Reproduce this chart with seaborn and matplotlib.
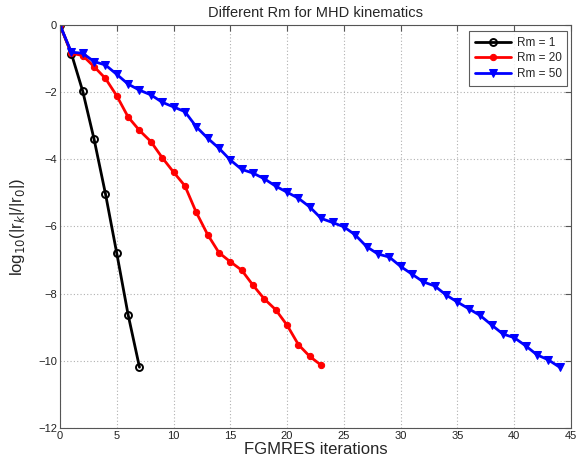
import matplotlib
matplotlib.use("Agg")
import matplotlib.pyplot as plt
import seaborn as sns
import pandas as pd
import numpy as np

rm1 = [0, -0.85, -1.97, -3.40, -5.02, -6.80, -8.63, -10.19]
rm20 = [0, -0.84, -0.91, -1.24, -1.59, -2.11, -2.74, -3.14, -3.47, -3.95, -4.38,
        -4.79, -5.58, -6.24, -6.78, -7.05, -7.30, -7.75, -8.16, -8.48, -8.94,
        -9.52, -9.87, -10.13]
rm50 = [0, -0.81, -0.84, -1.09, -1.19, -1.47, -1.76, -1.94, -2.08, -2.30, -2.44,
        -2.58, -3.03, -3.37, -3.67, -4.02, -4.30, -4.41, -4.58, -4.80, -4.98,
        -5.16, -5.42, -5.76, -5.88, -6.01, -6.25, -6.60, -6.82, -6.91, -7.19,
        -7.42, -7.65, -7.77, -8.04, -8.25, -8.45, -8.65, -8.93, -9.20, -9.31,
        -9.55, -9.82, -9.97, -10.19]
labels = ["Rm = 1", "Rm = 20", "Rm = 50"]
colors = ["black", "red", "blue"]

sns.set_style("white")
plt.rcParams['font.family'] = ['Liberation Sans', 'DejaVu Sans']

fig = plt.figure(figsize=(5.76, 4.66), dpi=100)
ax = fig.add_axes([60/576, 1-428/466, 511/576, 403/466])

series = [rm1, rm20, rm50]
styles = [dict(marker='o', markerfacecolor='none', markeredgecolor='black', markersize=5, markeredgewidth=1.4),
          dict(marker='o', markerfacecolor='red', markeredgecolor='red', markersize=4.5),
          dict(marker='v', markerfacecolor='blue', markeredgecolor='blue', markersize=6)]
for vals, lab, col, st in zip(series, labels, colors, styles):
    df = pd.DataFrame({"it": np.arange(len(vals)), "val": vals})
    sns.lineplot(data=df, x="it", y="val", ax=ax, color=col, linewidth=2, label=lab, **st)

ax.set_xlim(0, 45)
ax.set_ylim(-12, 0)
ax.set_xticks(range(0, 46, 5))
ax.set_yticks(range(-12, 1, 2))
ax.grid(True, linestyle=(0, (1, 2)), color='#b0b0b0', linewidth=0.8)
ax.tick_params(direction='in', top=True, right=True, labelsize=8, length=4, pad=2,
               labelcolor='#222222', color='#555555')
for s in ax.spines.values():
    s.set_color('#555555')
    s.set_linewidth(0.8)
ax.set_xlabel("FGMRES iterations", fontsize=12, labelpad=1)
ax.set_ylabel(r"log$_{10}$(|r$_k$|/|r$_0$|)", fontsize=12, labelpad=8)
ax.set_title("Different Rm for MHD kinematics", fontsize=10.5, pad=6)
leg = ax.legend(loc='upper right', fontsize=8.5, frameon=True, fancybox=False,
                edgecolor='#333333', handlelength=3.0, borderaxespad=0.0,
                bbox_to_anchor=(0.993, 0.985), labelspacing=0.3, borderpad=0.5,
                handletextpad=0.5)
leg.get_frame().set_linewidth(0.8)

fig.savefig("out.png", dpi=100)
